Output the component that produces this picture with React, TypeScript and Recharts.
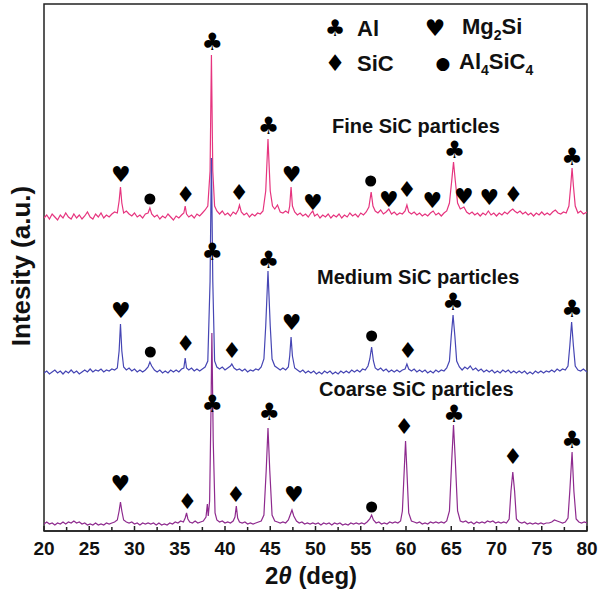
import React from 'react';
import { ComposedChart, Line, XAxis, YAxis, ReferenceDot, ReferenceArea } from 'recharts';

// 2theta (deg) vs intensity (a.u., offset per sample)
const fineTrace: [number, number][] = [
  [20, 313], [20.3, 316], [20.6, 312], [20.9, 317], [21.2, 314], [21.5, 311], [21.8, 316], [22.1, 313], [22.4, 318], [22.7, 314],
  [23.0, 312], [23.3, 317], [23.6, 313], [23.9, 316], [24.2, 312], [24.5, 315], [24.8, 319], [25.1, 314], [25.4, 312], [25.7, 317],
  [26.0, 314], [26.3, 318], [26.6, 313], [26.9, 316], [27.2, 314], [27.5, 317], [27.8, 319], [28.1, 318], [28.3, 330], [28.45, 344],
  [28.6, 328], [28.8, 318], [29.1, 320], [29.4, 317], [29.7, 315], [30.0, 318], [30.3, 314], [30.6, 316], [30.9, 313], [31.2, 317],
  [31.5, 318], [31.7, 323], [31.9, 317], [32.2, 314], [32.5, 316], [32.8, 312], [33.1, 315], [33.4, 313], [33.7, 317], [34.0, 314],
  [34.3, 311], [34.6, 315], [34.9, 313], [35.2, 316], [35.45, 318], [35.6, 325], [35.75, 317], [36.0, 314], [36.3, 316], [36.6, 313],
  [36.9, 317], [37.2, 315], [37.5, 318], [37.8, 321], [38.1, 325], [38.35, 360], [38.5, 476], [38.65, 360], [38.85, 325], [39.1, 320],
  [39.4, 317], [39.7, 320], [40.0, 316], [40.3, 318], [40.6, 315], [40.9, 319], [41.2, 317], [41.45, 321], [41.6, 326], [41.8, 319],
  [42.1, 316], [42.4, 318], [42.7, 314], [43.0, 317], [43.3, 315], [43.6, 318], [43.9, 317], [44.2, 320], [44.5, 340], [44.75, 392],
  [45.0, 340], [45.25, 325], [45.5, 322], [45.8, 326], [46.1, 319], [46.4, 318], [46.7, 320], [47.0, 318], [47.15, 325], [47.3, 344],
  [47.45, 325], [47.7, 319], [48.0, 316], [48.3, 318], [48.6, 315], [48.9, 317], [49.2, 314], [49.5, 318], [49.7, 320], [49.9, 315],
  [50.2, 317], [50.5, 313], [50.8, 316], [51.1, 314], [51.4, 317], [51.7, 313], [52.0, 316], [52.3, 314], [52.6, 317], [52.9, 313],
  [53.2, 316], [53.5, 314], [53.8, 318], [54.1, 315], [54.4, 317], [54.7, 314], [55.0, 318], [55.3, 316], [55.6, 319], [55.9, 324],
  [56.15, 339], [56.35, 325], [56.6, 320], [56.9, 318], [57.2, 321], [57.5, 317], [57.8, 319], [58.1, 322], [58.4, 317], [58.7, 319],
  [59.0, 316], [59.3, 318], [59.6, 317], [59.9, 320], [60.1, 326], [60.3, 319], [60.6, 317], [60.9, 319], [61.2, 316], [61.5, 318],
  [61.8, 315], [62.1, 317], [62.4, 315], [62.7, 318], [63.0, 320], [63.3, 316], [63.6, 318], [63.9, 315], [64.2, 318], [64.5, 320],
  [64.8, 328], [65.05, 350], [65.25, 369], [65.45, 350], [65.7, 328], [66.0, 322], [66.4, 324], [66.7, 319], [67.0, 317], [67.3, 319],
  [67.6, 316], [67.9, 318], [68.2, 315], [68.5, 318], [68.8, 316], [69.1, 320], [69.4, 316], [69.7, 318], [70.0, 315], [70.3, 318],
  [70.6, 316], [70.9, 319], [71.2, 317], [71.5, 320], [71.8, 322], [72.0, 320], [72.3, 318], [72.6, 320], [72.9, 317], [73.2, 319],
  [73.5, 316], [73.8, 318], [74.1, 315], [74.4, 318], [74.7, 316], [75.0, 319], [75.3, 316], [75.6, 318], [75.9, 316], [76.2, 319],
  [76.5, 321], [76.8, 318], [77.1, 317], [77.4, 319], [77.7, 318], [78.0, 325], [78.2, 345], [78.35, 363], [78.5, 345], [78.7, 325],
  [79.0, 318], [79.3, 320], [79.6, 317], [80, 319],
];

const mediumTrace: [number, number][] = [
  [20, 158], [20.3, 160], [20.6, 157], [20.9, 159], [21.2, 161], [21.5, 158], [21.8, 160], [22.1, 157], [22.4, 160], [22.7, 158],
  [23.0, 161], [23.3, 158], [23.6, 160], [23.9, 157], [24.2, 159], [24.5, 161], [24.8, 159], [25.1, 162], [25.4, 159], [25.7, 161],
  [26.0, 160], [26.3, 162], [26.6, 159], [26.9, 161], [27.2, 160], [27.5, 162], [27.8, 161], [28.1, 163], [28.3, 180], [28.45, 207],
  [28.6, 180], [28.8, 164], [29.1, 161], [29.4, 163], [29.7, 160], [30.0, 162], [30.3, 159], [30.6, 161], [30.9, 159], [31.2, 161],
  [31.5, 164], [31.7, 169], [31.9, 165], [32.2, 161], [32.5, 159], [32.8, 161], [33.1, 158], [33.4, 160], [33.7, 158], [34.0, 161],
  [34.3, 159], [34.6, 161], [34.9, 159], [35.2, 162], [35.45, 163], [35.6, 173], [35.75, 163], [36.0, 161], [36.3, 163], [36.6, 160],
  [36.9, 162], [37.2, 160], [37.5, 162], [37.8, 164], [38.1, 170], [38.35, 250], [38.5, 373], [38.65, 250], [38.85, 170], [39.1, 164],
  [39.4, 162], [39.7, 164], [40.0, 161], [40.3, 163], [40.6, 165], [40.75, 167], [41.0, 163], [41.3, 161], [41.6, 162], [41.9, 160],
  [42.2, 162], [42.5, 159], [42.8, 161], [43.1, 160], [43.4, 162], [43.7, 161], [44.0, 164], [44.3, 172], [44.5, 205], [44.75, 260],
  [45.0, 205], [45.2, 172], [45.5, 165], [45.8, 163], [46.1, 161], [46.4, 163], [46.7, 161], [47.0, 164], [47.15, 175], [47.3, 194],
  [47.45, 175], [47.7, 163], [48.0, 161], [48.3, 159], [48.6, 161], [48.9, 158], [49.2, 160], [49.5, 158], [49.8, 160], [50.1, 157],
  [50.4, 159], [50.7, 157], [51.0, 160], [51.3, 158], [51.6, 160], [51.9, 157], [52.2, 159], [52.5, 157], [52.8, 160], [53.1, 158],
  [53.4, 160], [53.7, 158], [54.0, 161], [54.3, 159], [54.6, 161], [54.9, 159], [55.2, 162], [55.5, 161], [55.8, 165], [56.0, 172],
  [56.2, 184], [56.4, 170], [56.6, 163], [56.9, 161], [57.2, 163], [57.5, 160], [57.8, 162], [58.1, 159], [58.4, 161], [58.7, 159],
  [59.0, 161], [59.3, 159], [59.6, 161], [59.9, 162], [60.1, 167], [60.3, 162], [60.6, 160], [60.9, 162], [61.2, 159], [61.5, 161],
  [61.8, 159], [62.1, 161], [62.4, 158], [62.7, 160], [63.0, 158], [63.3, 161], [63.6, 159], [63.9, 161], [64.2, 160], [64.5, 163],
  [64.8, 170], [65.0, 195], [65.2, 216], [65.4, 195], [65.6, 170], [65.9, 164], [66.2, 161], [66.5, 164], [66.8, 162], [67.1, 165],
  [67.4, 161], [67.7, 163], [68.0, 160], [68.3, 162], [68.6, 159], [68.9, 161], [69.2, 159], [69.5, 161], [69.8, 158], [70.1, 160],
  [70.4, 158], [70.7, 161], [71.0, 159], [71.3, 161], [71.6, 158], [71.9, 160], [72.2, 158], [72.5, 160], [72.8, 158], [73.1, 160],
  [73.4, 157], [73.7, 159], [74.0, 157], [74.3, 160], [74.6, 158], [74.9, 160], [75.2, 158], [75.5, 160], [75.8, 159], [76.1, 161],
  [76.4, 159], [76.7, 162], [77.0, 160], [77.3, 162], [77.6, 161], [77.9, 165], [78.1, 185], [78.3, 209], [78.5, 185], [78.7, 165],
  [79.0, 161], [79.3, 160], [79.6, 162], [80, 159],
];

const coarseTrace: [number, number][] = [
  [20, 7], [20.3, 9], [20.6, 7], [20.9, 8], [21.2, 6], [21.5, 8], [21.8, 7], [22.1, 9], [22.4, 7], [22.7, 9],
  [23.0, 8], [23.3, 10], [23.6, 8], [23.9, 9], [24.2, 7], [24.5, 8], [24.8, 6], [25.1, 7], [25.4, 6], [25.7, 8],
  [26.0, 6], [26.3, 7], [26.6, 6], [26.9, 8], [27.2, 7], [27.5, 8], [27.8, 9], [28.1, 11], [28.3, 20], [28.45, 29],
  [28.6, 20], [28.8, 11], [29.1, 9], [29.4, 8], [29.7, 9], [30.0, 7], [30.3, 8], [30.6, 6], [30.9, 8], [31.2, 7],
  [31.5, 8], [31.8, 7], [32.1, 8], [32.4, 6], [32.7, 8], [33.0, 6], [33.3, 7], [33.6, 6], [33.9, 8], [34.2, 7],
  [34.5, 9], [34.8, 8], [35.1, 10], [35.4, 9], [35.6, 13], [35.75, 18], [35.9, 12], [36.1, 9], [36.4, 8], [36.7, 10],
  [37.0, 8], [37.3, 9], [37.6, 10], [37.9, 14], [38.05, 27], [38.15, 15], [38.3, 30], [38.45, 120], [38.55, 198], [38.7, 90],
  [38.9, 18], [39.1, 11], [39.4, 9], [39.7, 10], [40.0, 8], [40.3, 9], [40.6, 8], [40.9, 10], [41.1, 14], [41.25, 25],
  [41.4, 13], [41.6, 9], [41.9, 8], [42.2, 9], [42.5, 7], [42.8, 8], [43.1, 7], [43.4, 8], [43.7, 9], [44.0, 10],
  [44.3, 16], [44.55, 60], [44.75, 103], [44.95, 60], [45.2, 16], [45.5, 10], [45.8, 9], [46.1, 8], [46.4, 9], [46.7, 8],
  [47.0, 11], [47.2, 16], [47.4, 21], [47.6, 15], [47.9, 10], [48.2, 8], [48.5, 9], [48.8, 7], [49.1, 8], [49.4, 7],
  [49.7, 8], [50.0, 7], [50.3, 8], [50.6, 6], [50.9, 8], [51.2, 7], [51.5, 8], [51.8, 6], [52.1, 8], [52.4, 7],
  [52.7, 8], [53.0, 6], [53.3, 7], [53.6, 6], [53.9, 8], [54.2, 7], [54.5, 8], [54.8, 7], [55.1, 8], [55.4, 7],
  [55.7, 9], [56.0, 12], [56.2, 16], [56.4, 11], [56.7, 8], [57.0, 9], [57.3, 7], [57.6, 8], [57.9, 7], [58.2, 9],
  [58.5, 8], [58.8, 9], [59.1, 8], [59.4, 10], [59.6, 20], [59.8, 60], [59.95, 90], [60.1, 60], [60.3, 18], [60.6, 10],
  [60.9, 9], [61.2, 8], [61.5, 9], [61.8, 7], [62.1, 8], [62.4, 7], [62.7, 9], [63.0, 8], [63.3, 9], [63.6, 8],
  [63.9, 9], [64.2, 8], [64.5, 10], [64.8, 20], [65.05, 70], [65.25, 106], [65.45, 70], [65.7, 20], [66.0, 10], [66.3, 9],
  [66.6, 10], [66.9, 8], [67.2, 9], [67.5, 7], [67.8, 9], [68.1, 8], [68.4, 9], [68.7, 8], [69.0, 10], [69.3, 9],
  [69.6, 10], [69.9, 8], [70.2, 9], [70.5, 8], [70.8, 9], [71.1, 8], [71.4, 12], [71.6, 40], [71.8, 59], [72.0, 40],
  [72.2, 12], [72.5, 9], [72.8, 8], [73.1, 9], [73.4, 7], [73.7, 8], [74.0, 7], [74.3, 8], [74.6, 7], [74.9, 8],
  [75.2, 7], [75.5, 8], [75.8, 8], [76.1, 9], [76.4, 11], [76.7, 10], [77.0, 9], [77.3, 8], [77.6, 9], [77.9, 13],
  [78.1, 40], [78.35, 79], [78.55, 40], [78.8, 12], [79.1, 9], [79.4, 8], [79.7, 9], [80, 8],
];

// phase markers: [phase, 2theta, height]
type Phase = 'club' | 'heart' | 'diamond' | 'dot';
const fineMarkers: [Phase, number, number][] = [
  ['heart', 28.5, 356], ['dot', 31.7, 332], ['diamond', 35.65, 336], ['club', 38.6, 489], ['diamond', 41.55, 338],
  ['club', 44.8, 405], ['heart', 47.35, 356], ['heart', 49.7, 328], ['dot', 56.1, 350], ['heart', 58.1, 331],
  ['diamond', 60.1, 341], ['heart', 62.9, 330], ['club', 65.35, 381], ['heart', 66.4, 334], ['heart', 69.2, 333],
  ['diamond', 71.85, 336], ['club', 78.35, 374],
];
const mediumMarkers: [Phase, number, number][] = [
  ['heart', 28.5, 220], ['dot', 31.75, 179], ['diamond', 35.65, 187], ['club', 38.6, 279], ['diamond', 40.75, 180],
  ['club', 44.8, 271], ['heart', 47.35, 208], ['dot', 56.2, 195], ['diamond', 60.2, 180], ['club', 65.2, 229],
  ['club', 78.35, 222],
];
const coarseMarkers: [Phase, number, number][] = [
  ['heart', 28.45, 47], ['diamond', 35.85, 29], ['club', 38.6, 127], ['diamond', 41.2, 36], ['club', 44.9, 119],
  ['heart', 47.6, 36], ['dot', 56.2, 24], ['diamond', 59.8, 104], ['club', 65.3, 117], ['diamond', 71.8, 74],
  ['club', 78.35, 91],
];

const majorTicks = [20, 25, 30, 35, 40, 45, 50, 55, 60, 65, 70, 75, 80];
const minorTicks = [22.5, 27.5, 32.5, 37.5, 42.5, 47.5, 52.5, 57.5, 62.5, 67.5, 72.5, 77.5];

const FONT = '"Liberation Sans", Arial, Helvetica, sans-serif';
const SYM_FONT = '"DejaVu Sans", sans-serif';
const glyphs: Record<Phase, string> = { club: '\u2663', heart: '\u2665', diamond: '\u2666', dot: '\u25CF' };

const toPoints = (t: [number, number][]) => t.map(([x, y]) => ({ x, y }));

const Symbol = ({ cx, cy, phase }: any) => {
  if (phase === 'dot') return <circle cx={cx} cy={cy} r={5.5} fill="#000" />;
  const size = phase === 'club' ? 24 : 22;
  return (
    <text x={cx} y={cy} dy={size * 0.33} textAnchor="middle" fontSize={size} fontFamily={SYM_FONT} fill="#000">
      {glyphs[phase as Phase]}
    </text>
  );
};

const XTick = ({ x, y, payload }: any) => {
  const major = majorTicks.includes(payload.value);
  return (
    <g>
      <line x1={x} x2={x} y1={y} y2={y - (major ? 5 : 4)} stroke="#222" strokeWidth={1.5} />
      {major && (
        <text x={x} y={y + 24} textAnchor="middle" fontSize={19} fontWeight="bold" fontFamily={FONT} fill="#111">
          {payload.value}
        </text>
      )}
    </g>
  );
};

const labelStyle: React.CSSProperties = {
  position: 'absolute', fontFamily: FONT, fontWeight: 'bold', color: '#111', lineHeight: 1, whiteSpace: 'nowrap',
  transform: 'translateY(-50%)',
};
const symStyle: React.CSSProperties = {
  position: 'absolute', fontFamily: SYM_FONT, color: '#000', lineHeight: 1, transform: 'translate(-50%, -50%)',
};

export default function App() {
  const allMarkers = [...fineMarkers, ...mediumMarkers, ...coarseMarkers];
  return (
    <div style={{ position: 'absolute', left: 0, top: 0, width: 602, height: 589, background: '#fff' }}>
      <ComposedChart width={602} height={589} margin={{ top: 4, right: 15, left: 44, bottom: 28 }}>
        <XAxis
          type="number"
          dataKey="x"
          domain={[20, 80]}
          ticks={[...majorTicks, ...minorTicks].sort((a, b) => a - b)}
          interval={0}
          height={30}
          tickSize={0}
          tickMargin={0}
          tickLine={false}
          axisLine={{ stroke: '#222', strokeWidth: 1.5 }}
          tick={<XTick />}
          allowDataOverflow
        />
        <YAxis type="number" domain={[0, 527]} hide />
        <Line data={toPoints(fineTrace)} dataKey="y" type="linear" dot={false} stroke="#e6357f" strokeWidth={1.2} isAnimationActive={false} />
        <Line data={toPoints(mediumTrace)} dataKey="y" type="linear" dot={false} stroke="#4646b4" strokeWidth={1.2} isAnimationActive={false} />
        <Line data={toPoints(coarseTrace)} dataKey="y" type="linear" dot={false} stroke="#8e2a8e" strokeWidth={1.2} isAnimationActive={false} />
        <ReferenceArea x1={20} x2={80} y1={0} y2={527} fill="none" stroke="#222" strokeWidth={1.5} ifOverflow="visible" />
        {allMarkers.map(([phase, x, y], i) => (
          <ReferenceDot key={i} x={x} y={y} r={0} ifOverflow="visible" shape={(p: any) => <Symbol cx={p.cx} cy={p.cy} phase={phase} />} />
        ))}
      </ComposedChart>

      {/* legend */}
      <div style={{ ...symStyle, left: 335, top: 28, fontSize: 23 }}>{glyphs.club}</div>
      <div style={{ ...labelStyle, left: 357, top: 29, fontSize: 22 }}>Al</div>
      <div style={{ ...symStyle, left: 435, top: 28, fontSize: 23 }}>{glyphs.heart}</div>
      <div style={{ ...labelStyle, left: 462, top: 29, fontSize: 22 }}>
        Mg<sub style={{ fontSize: 14 }}>2</sub>Si
      </div>
      <div style={{ ...symStyle, left: 335, top: 63, fontSize: 23 }}>{glyphs.diamond}</div>
      <div style={{ ...labelStyle, left: 357, top: 64, fontSize: 22 }}>SiC</div>
      <div style={{ ...symStyle, left: 443, top: 63, fontSize: 17 }}>{glyphs.dot}</div>
      <div style={{ ...labelStyle, left: 459, top: 64, fontSize: 22 }}>
        Al<sub style={{ fontSize: 14 }}>4</sub>SiC<sub style={{ fontSize: 14 }}>4</sub>
      </div>

      {/* sample labels */}
      <div style={{ ...labelStyle, left: 332, top: 126, fontSize: 20 }}>Fine SiC particles</div>
      <div style={{ ...labelStyle, left: 317, top: 277, fontSize: 20 }}>Medium SiC particles</div>
      <div style={{ ...labelStyle, left: 319, top: 389, fontSize: 20 }}>Coarse SiC particles</div>

      {/* axis titles */}
      <div style={{ ...labelStyle, left: 311, top: 576, fontSize: 24, transform: 'translate(-50%, -50%)' }}>
        2<i>θ</i> (deg)
      </div>
      <div style={{ ...labelStyle, left: 21, top: 266, fontSize: 26, transform: 'translate(-50%, -50%) rotate(-90deg)' }}>
        Intesity (a.u.)
      </div>
    </div>
  );
}
